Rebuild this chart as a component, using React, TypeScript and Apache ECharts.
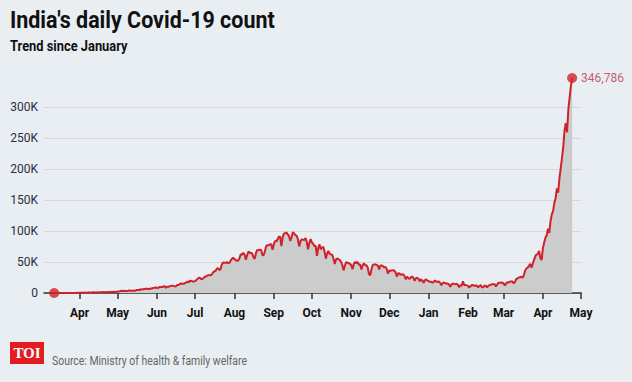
import React, { useEffect, useRef } from "react";
import * as echarts from "echarts";

// Day index = days since 1 March 2020. First value is 12 March 2020.
const startDay = 11;
const mar2020 = [11, 9, 20, 11, 6, 23, 14, 38, 50, 86, 66, 103, 37, 121, 70, 160, 100, 112, 227, 146];
const apr2020 = [601, 545, 524, 516, 679, 508, 565, 809, 873, 848, 758, 1243, 1031, 886, 1061, 922, 1296, 1092, 1412, 1576, 1232, 1298, 1667, 1408, 1835, 1607, 1561, 1873, 1738, 1801];
const may2020 = [2396, 2564, 2952, 3656, 2971, 3602, 3344, 3339, 3175, 4311, 3592, 3562, 3726, 3991, 3808, 4794, 5050, 4628, 6154, 5720, 6023, 6568, 6629, 7111, 6414, 6387, 7246, 7254, 8138, 8364, 8789];
const jun2020 = [8392, 8171, 9633, 9889, 9471, 10438, 10864, 8442, 9985, 9996, 10956, 11458, 11929, 11502, 10667, 10974, 13103, 12881, 14516, 15413, 14821, 14933, 15968, 16922, 18552, 17296, 19906, 19459, 18522, 18653];
const jul2020 = [19148, 20903, 22771, 24850, 24248, 22252, 22752, 24879, 26506, 27114, 28637, 28701, 28498, 29429, 32695, 34956, 34884, 38902, 40425, 37148, 37724, 45720, 49310, 48916, 48661, 49931, 47703, 48513, 52123, 55079, 57118];
const aug2020 = [54735, 52972, 52050, 52509, 56282, 62538, 61537, 65002, 62064, 53601, 60963, 66999, 64553, 65002, 63490, 57981, 55079, 64531, 69652, 68898, 69878, 69874, 61408, 60975, 67151, 75760, 77266, 76472, 78761, 78512, 69921];
const sep2020 = [78357, 83883, 83341, 86432, 90632, 90802, 75809, 89706, 95735, 96551, 97570, 94372, 92071, 83809, 90123, 97894, 96424, 93337, 92605, 86961, 75083, 83347, 86508, 86052, 85362, 88600, 82170, 70589, 80472, 86821];
const oct2020 = [81484, 79476, 75829, 75829, 59893, 72049, 78524, 70496, 73272, 74383, 66732, 55342, 63509, 67708, 63371, 62212, 61871, 55722, 46791, 54044, 55839, 54366, 53370, 50129, 45148, 36470, 43893, 49881, 48648, 48268, 46963];
const nov2020 = [45231, 38310, 46254, 50210, 47638, 50357, 45674, 45903, 38074, 44281, 47905, 44879, 44878, 41100, 30548, 28555, 38617, 45576, 45882, 46232, 45209, 44059, 37975, 44376, 44489, 43082, 41322, 41810, 38772, 31118];
const dec2020 = [36604, 35551, 36595, 36652, 36011, 32981, 26567, 32080, 31522, 29398, 30006, 30254, 27071, 22065, 26382, 24010, 22890, 25152, 26624, 24337, 19556, 23950, 24712, 23068, 18732, 22273, 20021, 16432, 20550, 21822, 20035];
const jan2021 = [19079, 18177, 18088, 16504, 18088, 20346, 18139, 18222, 18645, 16311, 12584, 15968, 16946, 15590, 15158, 15144, 13788, 10064, 13823, 15223, 14545, 14256, 14849, 13203, 9102, 12689, 11666, 18855, 13083, 13052, 12300];
const feb2021 = [11427, 8635, 11039, 12899, 12408, 11713, 12059, 11831, 9110, 11067, 12923, 9309, 9121, 12194, 11649, 9093, 11610, 12881, 13193, 14264, 13993, 14199, 10584, 13742, 16738, 16577, 16488, 16752];
const mar2021 = [15510, 12286, 14989, 17407, 16838, 18327, 18711, 18599, 15388, 17921, 22854, 23285, 24882, 25320, 26291, 24492, 28903, 35871, 39726, 40953, 43846, 46951, 40715, 47262, 53476, 59118, 62258, 62714, 68020, 56211, 53480];
const apr2021 = [72330, 81466, 89129, 93249, 103558, 96982, 115736, 126789, 131968, 145384, 152879, 168912, 161736, 184372, 200739, 217353, 234692, 261500, 273810, 259170, 295041, 314835, 332730, 346786];

const monthTickDays = [31, 61, 92, 122, 153, 184, 214, 245, 275, 306, 337, 365, 396, 426];
const monthLabels = ["Apr", "May", "Jun", "Jul", "Aug", "Sep", "Oct", "Nov", "Dec", "Jan", "Feb", "Mar", "Apr", "May"];
const xMin = 3;
const xMax = 426;
const yMax = 300000;
const yStep = 50000;

const TITLE = "India's daily Covid-19 count";
const SUBTITLE = "Trend since January";
const SOURCE = "Source: Ministry of health & family welfare";

export default function App() {
  const ref = useRef<HTMLDivElement>(null);
  useEffect(() => {
    if (!ref.current) return;
    const chart = echarts.init(ref.current, undefined, { renderer: "svg" });
    const values = [
      ...mar2020, ...apr2020, ...may2020, ...jun2020, ...jul2020, ...aug2020, ...sep2020,
      ...oct2020, ...nov2020, ...dec2020, ...jan2021, ...feb2021, ...mar2021, ...apr2021,
    ];
    const data = values.map((v, i) => [startDay + i, v]);
    const first = data[0];
    const last = data[data.length - 1];
    const font = "Roboto, 'Liberation Sans', sans-serif";

    chart.setOption({
      animation: false,
      backgroundColor: "#e9eef3",
      grid: { left: 44, right: 51, top: 107, bottom: 89 },
      xAxis: {
        type: "value",
        min: xMin,
        max: xMax,
        splitLine: { show: false },
        axisLine: { show: true, lineStyle: { color: "#333", width: 1.5 } },
        axisTick: { show: true, customValues: monthTickDays, length: 6, lineStyle: { color: "#333", width: 1.5 } },
        axisLabel: {
          customValues: monthTickDays,
          margin: 14,
          color: "#111",
          fontWeight: "bold",
          fontSize: 12,
          fontFamily: font,
          formatter: (v: number) => monthLabels[monthTickDays.indexOf(Math.round(v))] ?? "",
        },
      },
      yAxis: {
        type: "value",
        min: 0,
        max: yMax,
        interval: yStep,
        axisLine: { show: false },
        axisTick: { show: false },
        splitLine: { lineStyle: { color: "#d3d7dc", width: 1 } },
        axisLabel: {
          margin: 6,
          color: "#2b2d42",
          fontSize: 12,
          fontFamily: font,
          formatter: (v: number) => (v === 0 ? "0" : v / 1000 + "K"),
        },
      },
      series: [
        {
          type: "line",
          data,
          showSymbol: false,
          clip: false,
          lineStyle: { color: "#d0222a", width: 2 },
          areaStyle: { color: "#cccccc", opacity: 1 },
          z: 2,
        },
        {
          type: "scatter",
          clip: false,
          symbolSize: 10,
          itemStyle: { color: "#d0222a" },
          z: 5,
          data: [
            { value: first },
            {
              value: last,
              label: {
                show: true,
                position: "right",
                distance: 4,
                color: "#b8364a",
                fontSize: 12,
                fontFamily: font,
                formatter: () => (last[1] as number).toLocaleString("en-US"),
              },
            },
          ],
        },
      ],
      graphic: [
        {
          type: "text",
          x: 10,
          y: 8,
          scaleX: 0.933,
          style: { text: TITLE, fill: "#111", font: `bold 23px ${font}`, verticalAlign: "top" },
        },
        {
          type: "text",
          x: 10,
          y: 39,
          scaleX: 0.92,
          style: { text: SUBTITLE, fill: "#111", font: `bold 14px ${font}`, verticalAlign: "top" },
        },
        {
          type: "rect",
          shape: { x: 10, y: 342, width: 34, height: 22 },
          style: { fill: "#e31b23" },
        },
        {
          type: "text",
          x: 27,
          y: 353,
          style: {
            text: "TOI",
            fill: "#fff",
            font: "bold 15px 'Liberation Serif', 'DejaVu Serif', serif",
            align: "center",
            verticalAlign: "middle",
          },
        },
        {
          type: "text",
          x: 52,
          y: 361,
          scaleX: 0.87,
          style: { text: SOURCE, fill: "#666", font: `12px ${font}`, verticalAlign: "middle" },
        },
      ],
    });
    return () => chart.dispose();
  }, []);
  return <div ref={ref} style={{ position: "absolute", left: 0, top: 0, width: 632, height: 382 }} />;
}
